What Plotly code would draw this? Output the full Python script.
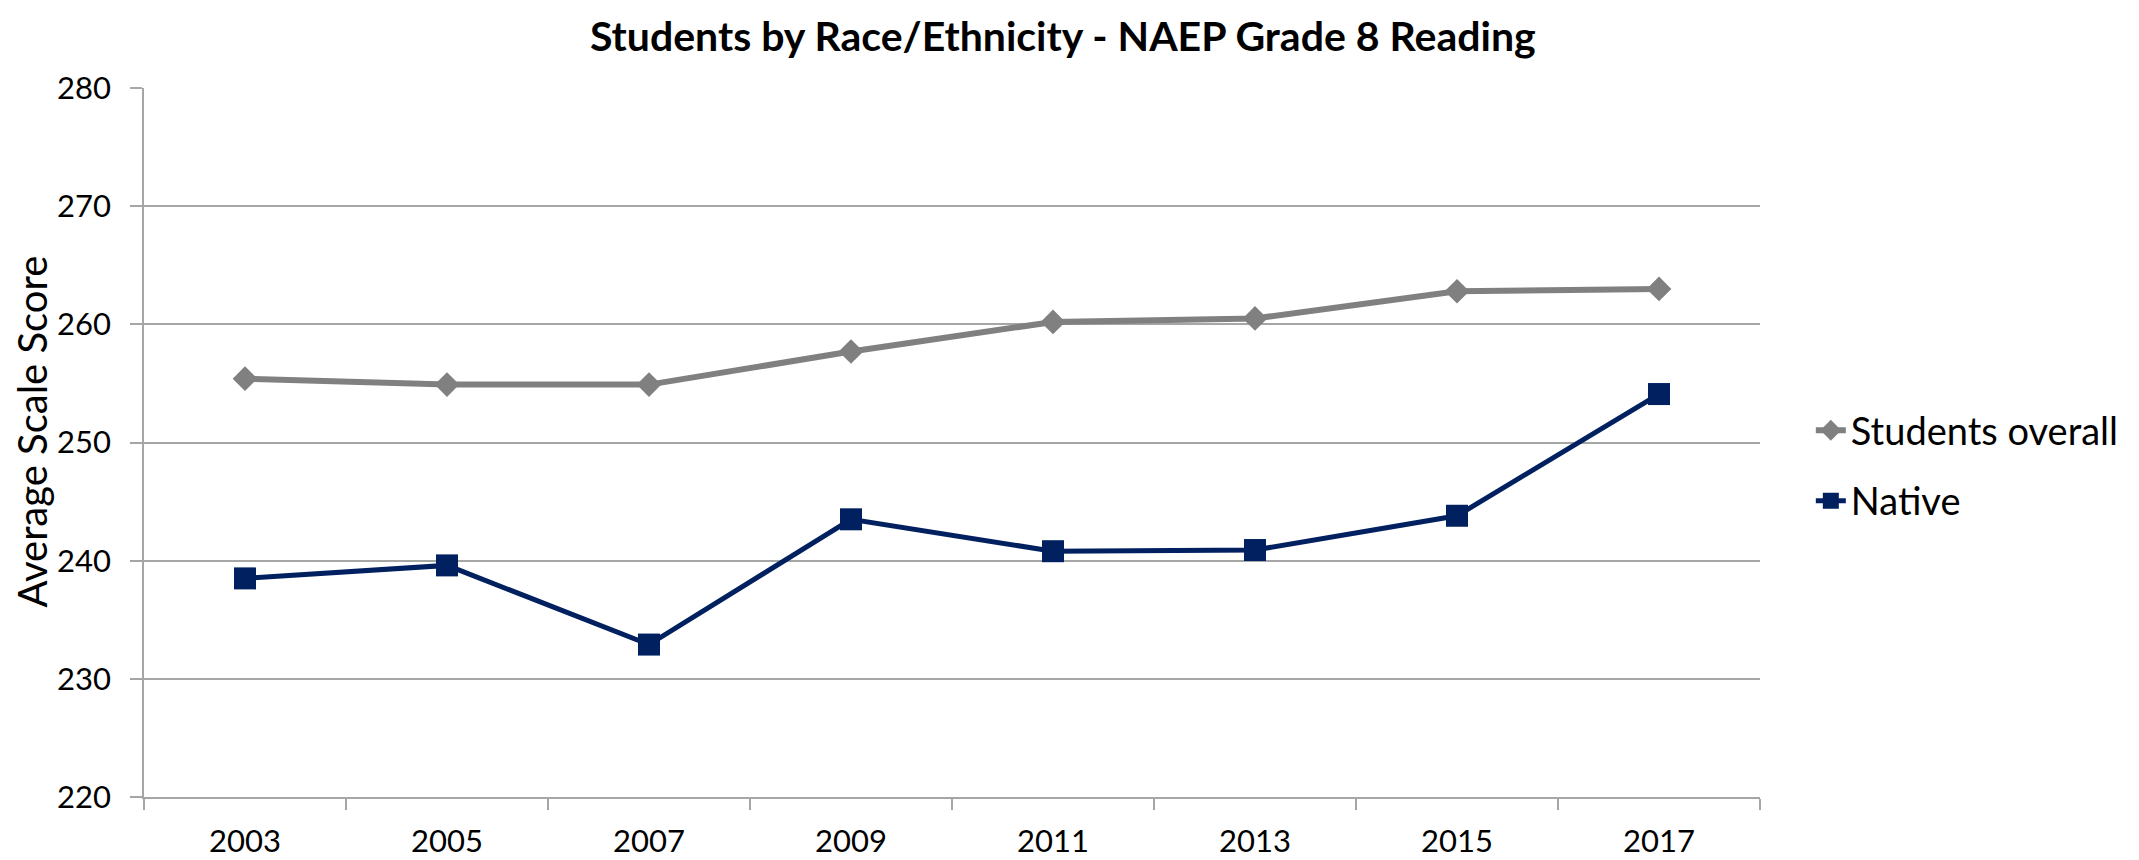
import plotly.graph_objects as go

# NAEP grade 8 reading, average scale score by year
years = ["2003", "2005", "2007", "2009", "2011", "2013", "2015", "2017"]
students_overall = [255.4, 254.9, 254.9, 257.7, 260.2, 260.5, 262.8, 263.0]
native = [238.5, 239.6, 232.9, 243.5, 240.8, 240.9, 243.8, 254.1]

GRAY = "#808080"
NAVY = "#002060"
GRID = "#a6a6a6"
FONT = "Lato"

# the page body adds an 8px margin, so the figure is drawn 8px smaller
W, H = 2131, 852

fig = go.Figure()
fig.add_trace(go.Scatter(
    x=years, y=students_overall, name="Students overall",
    mode="lines+markers", legendgroup="a",
    line=dict(color=GRAY, width=6),
    marker=dict(symbol="diamond", size=19, color=GRAY),
))
fig.add_trace(go.Scatter(
    x=years, y=native, name="Native",
    mode="lines+markers", legendgroup="b",
    line=dict(color=NAVY, width=5),
    marker=dict(symbol="square", size=22, color=NAVY),
))

fig.update_layout(
    width=W, height=H,
    margin=dict(l=136, r=379, t=80, b=63),
    paper_bgcolor="white", plot_bgcolor="white",
    font=dict(family=FONT, color="black", size=31),
    title=dict(
        text="<b>Students by Race/Ethnicity - NAEP Grade 8 Reading</b>",
        x=0.495, xref="container", xanchor="center",
        y=0.966, yref="container", yanchor="middle",
        font=dict(family=FONT, size=41, color="black"),
    ),
    legend=dict(
        xref="container", yref="container",
        x=0.846, xanchor="left", y=0.541, yanchor="top",
        font=dict(family=FONT, size=38),
        tracegroupgap=18, bgcolor="rgba(0,0,0,0)",
    ),
    showlegend=True,
    annotations=[dict(
        text="Average Scale Score", textangle=-90,
        xref="paper", yref="paper", x=-0.0695, y=0.515,
        xanchor="center", yanchor="middle", showarrow=False,
        font=dict(family=FONT, size=40, color="black"),
    )],
)
fig.update_xaxes(
    type="category", range=[-0.5, 7.5], automargin=False,
    showgrid=False, showline=True, linecolor=GRID, linewidth=2,
    ticks="outside", tickson="boundaries", ticklen=11, tickwidth=1.5,
    tickcolor=GRID, ticklabelstandoff=16,
    tickfont=dict(family=FONT, size=31),
)
fig.update_yaxes(
    range=[220, 280], dtick=10, tick0=220, automargin=False,
    showgrid=True, gridcolor=GRID, gridwidth=2,
    showline=True, linecolor=GRID, linewidth=1.5,
    ticks="outside", ticklen=12, tickwidth=1.5, tickcolor=GRID,
    ticklabelstandoff=13, zeroline=False,
    tickfont=dict(family=FONT, size=31),
)

fig.write_html("out.html")
